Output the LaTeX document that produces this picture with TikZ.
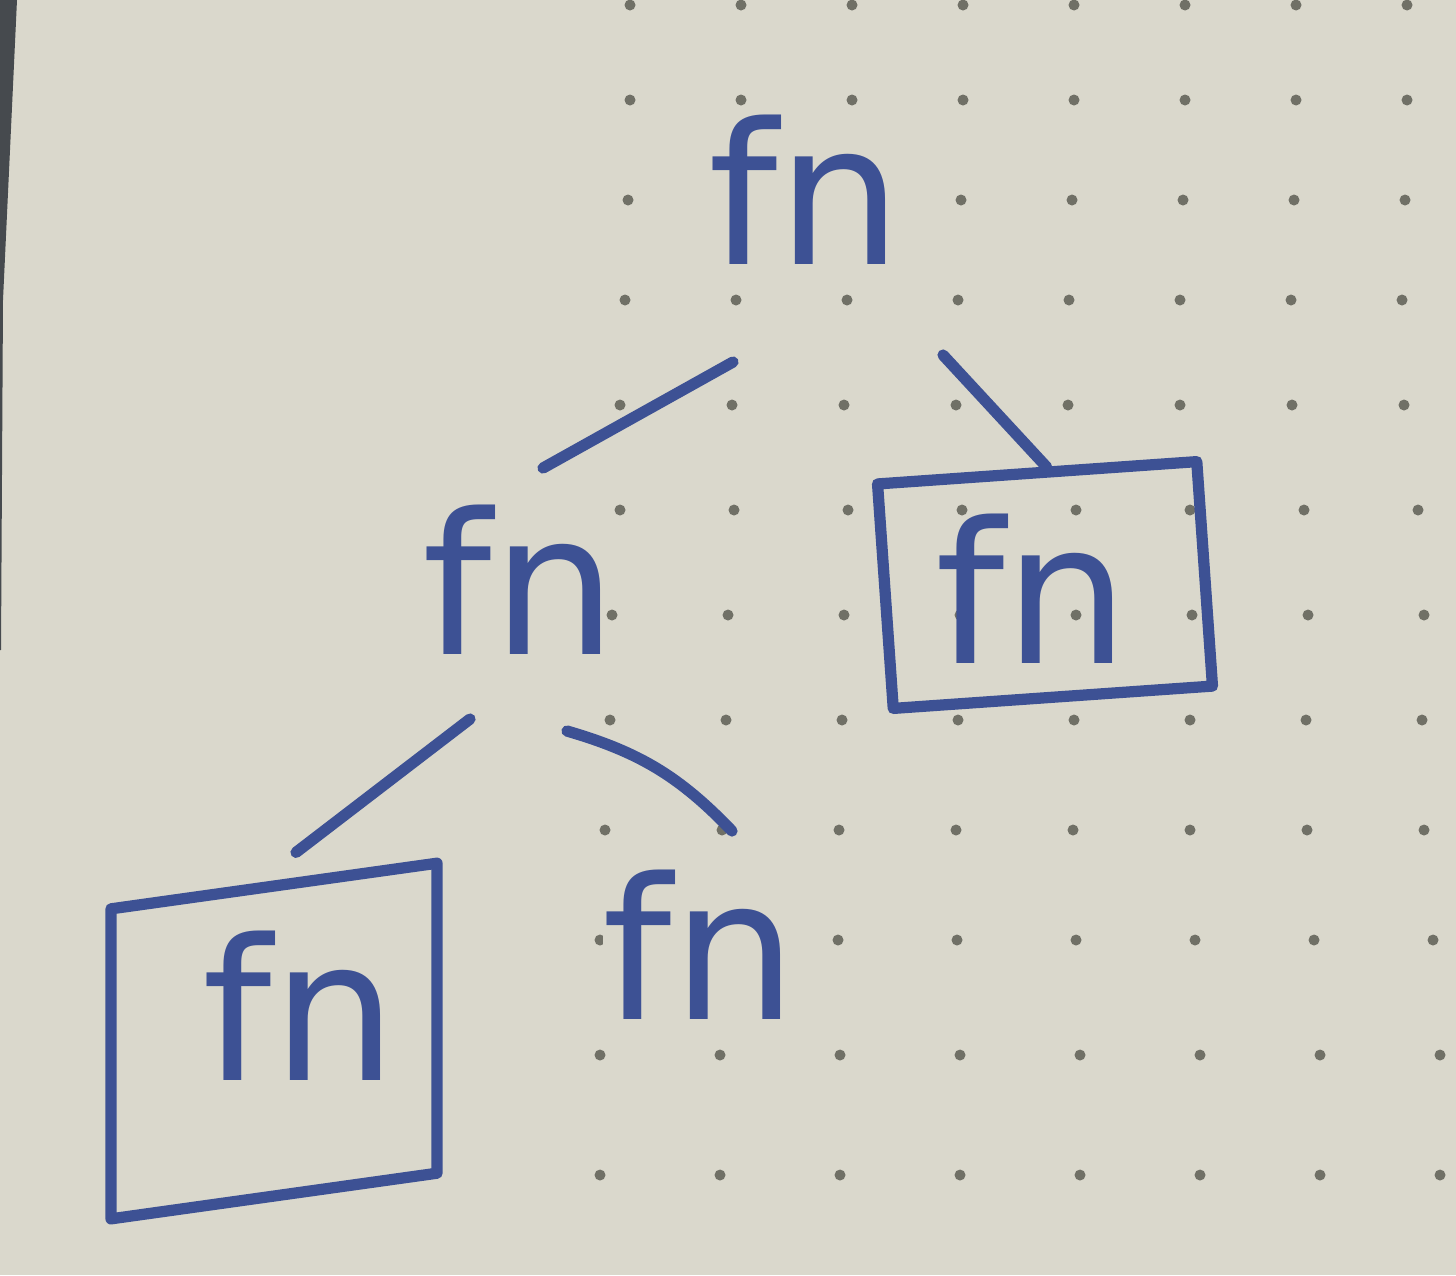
\documentclass[tikz,border=0pt]{standalone}
\usepackage{fontspec}
\setmainfont{DejaVu Sans}
\definecolor{paper}{RGB}{218,216,204}
\definecolor{ink}{RGB}{61,81,148}
\definecolor{dotgray}{RGB}{112,112,102}
\definecolor{edge}{RGB}{70,74,78}
\tikzset{
  fnode/.style={text=ink,font=\fontsize{56}{56}\selectfont,inner sep=0pt},
  fnode plain/.style={fnode,fill=paper},
  frame/.style={draw=ink,line width=3.2pt,line join=round,inner sep=0pt},
  connect/.style={ink,line width=3.2pt,line cap=round},
  dot/.style={fill=dotgray}
}

\begin{document}
\begin{tikzpicture}
    % Paper and its edge
    \useasboundingbox (0,0) rectangle (14.56,-12.75);
    \fill[paper] (0,0) rectangle (14.56,-12.75);
    \fill[edge] (0,0) -- (0.17,0) -- (0.03,-3) -- (0.01,-6.5) -- (0,-6.5) -- cycle;

    % Draw the dot grid
    \foreach \y/\xa/\dx in {0.05/6.30/1.11, 1.00/6.30/1.11, 2.00/6.28/1.11, 3.00/6.25/1.11,
        4.05/6.20/1.12, 5.10/6.20/1.14, 6.15/6.12/1.16, 7.20/6.10/1.16,
        8.30/6.05/1.17, 9.40/6.00/1.19, 10.55/6.00/1.20, 11.75/6.00/1.20}
        \foreach \i in {0,...,7}
            \fill[dot] ({\xa+\i*\dx},-\y) circle (0.055);

    % The nodes
    \node[fnode plain] (root) at (8.05,-1.90) {fn};
    \node[fnode] (mid) at (5.20,-5.80) {fn};
    \node[fnode] (rbox) at (10.32,-5.89) {fn};
    \node[frame, rotate=4, minimum width=3.2cm, minimum height=2.25cm] (rframe) at (10.45,-5.85) {};
    \node[fnode] (lbox) at (3.00,-10.06) {fn};
    \node[frame, yslant=0.14, minimum width=3.26cm, minimum height=3.1cm] (lframe) at (2.74,-10.41) {};
    \node[fnode plain] (leaf) at (7.00,-9.45) {fn};

    % The connectors
    \draw[connect] ([shift={(-0.72,-1.72)}]root.center) -- ([shift={(0.23,1.12)}]mid.center);
    \draw[connect] ([shift={(1.38,-1.65)}]root.center) -- ([xshift=0.1cm]rframe.north);
    \draw[connect] ([shift={(-0.50,-1.39)}]mid.center) -- ([shift={(0.22,0.28)}]lframe.north);
    \draw[connect] ([shift={(0.47,-1.51)}]mid.center) to[bend left=15] ([shift={(0.32,1.14)}]leaf.center);
\end{tikzpicture}
\end{document}
